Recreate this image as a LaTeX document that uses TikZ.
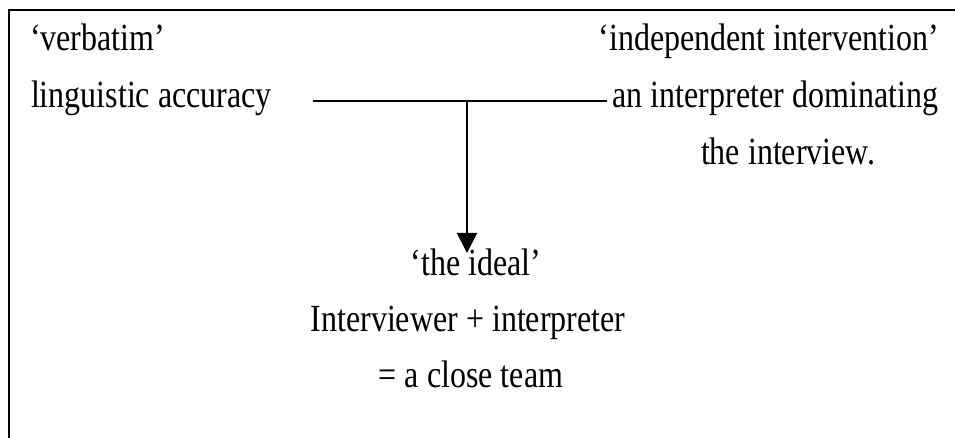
\documentclass[tikz,border=0pt]{standalone}
\usepackage{fontspec}
\setmainfont{Liberation Serif}
\usetikzlibrary{arrows.meta}
\newcommand{\vs}[1]{\scalebox{1}[1.2]{#1}}
\begin{document}
\begin{tikzpicture}[x=1pt,y=-1pt,
  txt/.style={font=\fontsize{32}{38}\selectfont, inner sep=0pt, outer sep=0pt},
  frame/.style={line width=2pt},
  conn/.style={line width=2pt},
  arr/.style={line width=2pt, -{Triangle[width=20pt,length=20pt]}}]
\useasboundingbox (0,0) rectangle (955,438);
\draw[frame] (8.5,438) -- (8.5,10) -- (955,10);
\node[txt, anchor=base west] (verb) at (30,51) {\vs{‘verbatim’}};
\node[txt, anchor=base west] (ling) at (31,108) {\vs{linguistic accuracy}};
\node[txt, anchor=base east] (indep) at (939,51) {\vs{‘independent intervention’}};
\node[txt, anchor=base east] (dom) at (938,108) {\vs{an interpreter dominating}};
\node[txt, anchor=base] (intv) at (788,165) {\vs{the interview.}};
\node[txt, anchor=base] (ideal) at (476,275) {\vs{‘the ideal’}};
\node[txt, anchor=base] (team1) at (468,331) {\vs{Interviewer + interpreter}};
\node[txt, anchor=base] (team2) at (471,387) {\vs{= a close team}};
\coordinate (L) at (313,101);
\coordinate (R) at (607,101);
\coordinate (J) at (467,101);
\coordinate (T) at (467,253);
\draw[conn] (L) -- (R);
\draw[arr] (J) -- (T);
\end{tikzpicture}
\end{document}
